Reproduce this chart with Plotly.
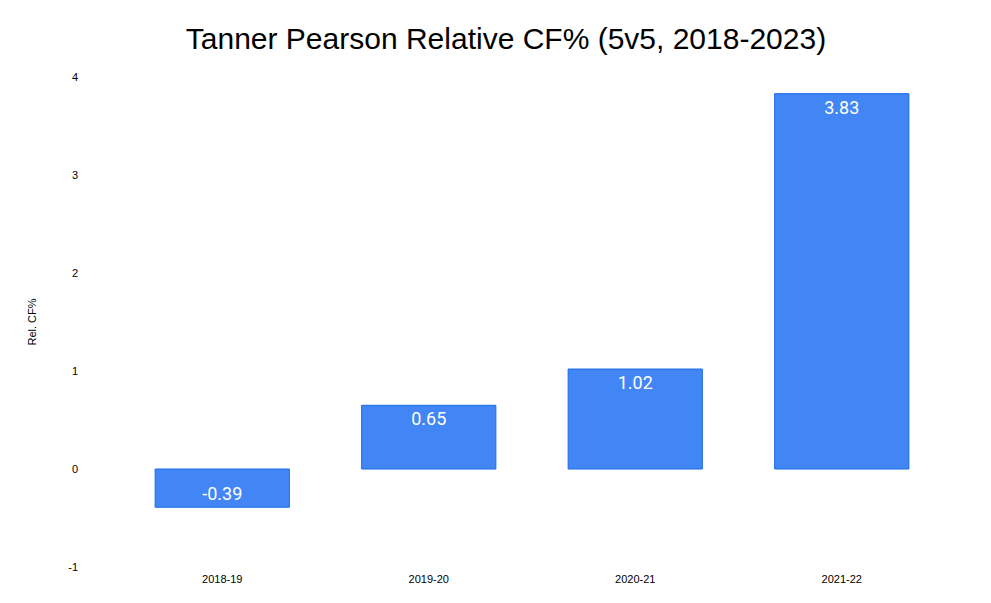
import plotly.graph_objects as go

seasons = ["2018-19", "2019-20", "2020-21", "2021-22"]
rel_cf = [-0.39, 0.65, 1.02, 3.83]
y_ticks = [-1, 0, 1, 2, 3, 4]
y_tick_labels = ["-1", "0", "1", "2", "3", "4"]

fig = go.Figure(
    go.Bar(
        x=seasons,
        y=rel_cf,
        text=[f"{v:.2f}" for v in rel_cf],
        textposition="inside",
        insidetextanchor="end",
        textangle=0,
        textfont=dict(color="white", size=18, family="Roboto, Arial, sans-serif"),
        marker=dict(color="#4285F4", line=dict(color="#1A6BE8", width=1)),
        width=0.65,
    )
)

fig.update_layout(
    width=991,
    height=603,
    paper_bgcolor="white",
    plot_bgcolor="white",
    margin=dict(l=111, r=54, t=69, b=44),
    title=dict(
        text="Tanner Pearson Relative CF% (5v5, 2018-2023)",
        x=0.5025,
        xanchor="center",
        y=0.950,
        yanchor="middle",
        font=dict(family="Liberation Sans, Arial, sans-serif", size=30, color="#000000"),
    ),
    showlegend=False,
    font=dict(family="Liberation Sans, Arial, sans-serif", color="#000000"),
    uniformtext=dict(minsize=10, mode="show"),
)

fig.update_yaxes(
    range=[-1, 4],
    tickvals=y_ticks,
    ticktext=y_tick_labels,
    showgrid=False,
    zeroline=False,
    showline=False,
    ticks="",
    ticklabelstandoff=40,
    tickfont=dict(size=11, color="#000000"),
    title=dict(text="Rel. CF%", font=dict(size=11, color="#000000"), standoff=29),
)
fig.update_xaxes(
    showgrid=False,
    showline=False,
    ticks="",
    ticklabelstandoff=4,
    tickfont=dict(size=11, color="#000000"),
)

fig.write_html("out.html")
